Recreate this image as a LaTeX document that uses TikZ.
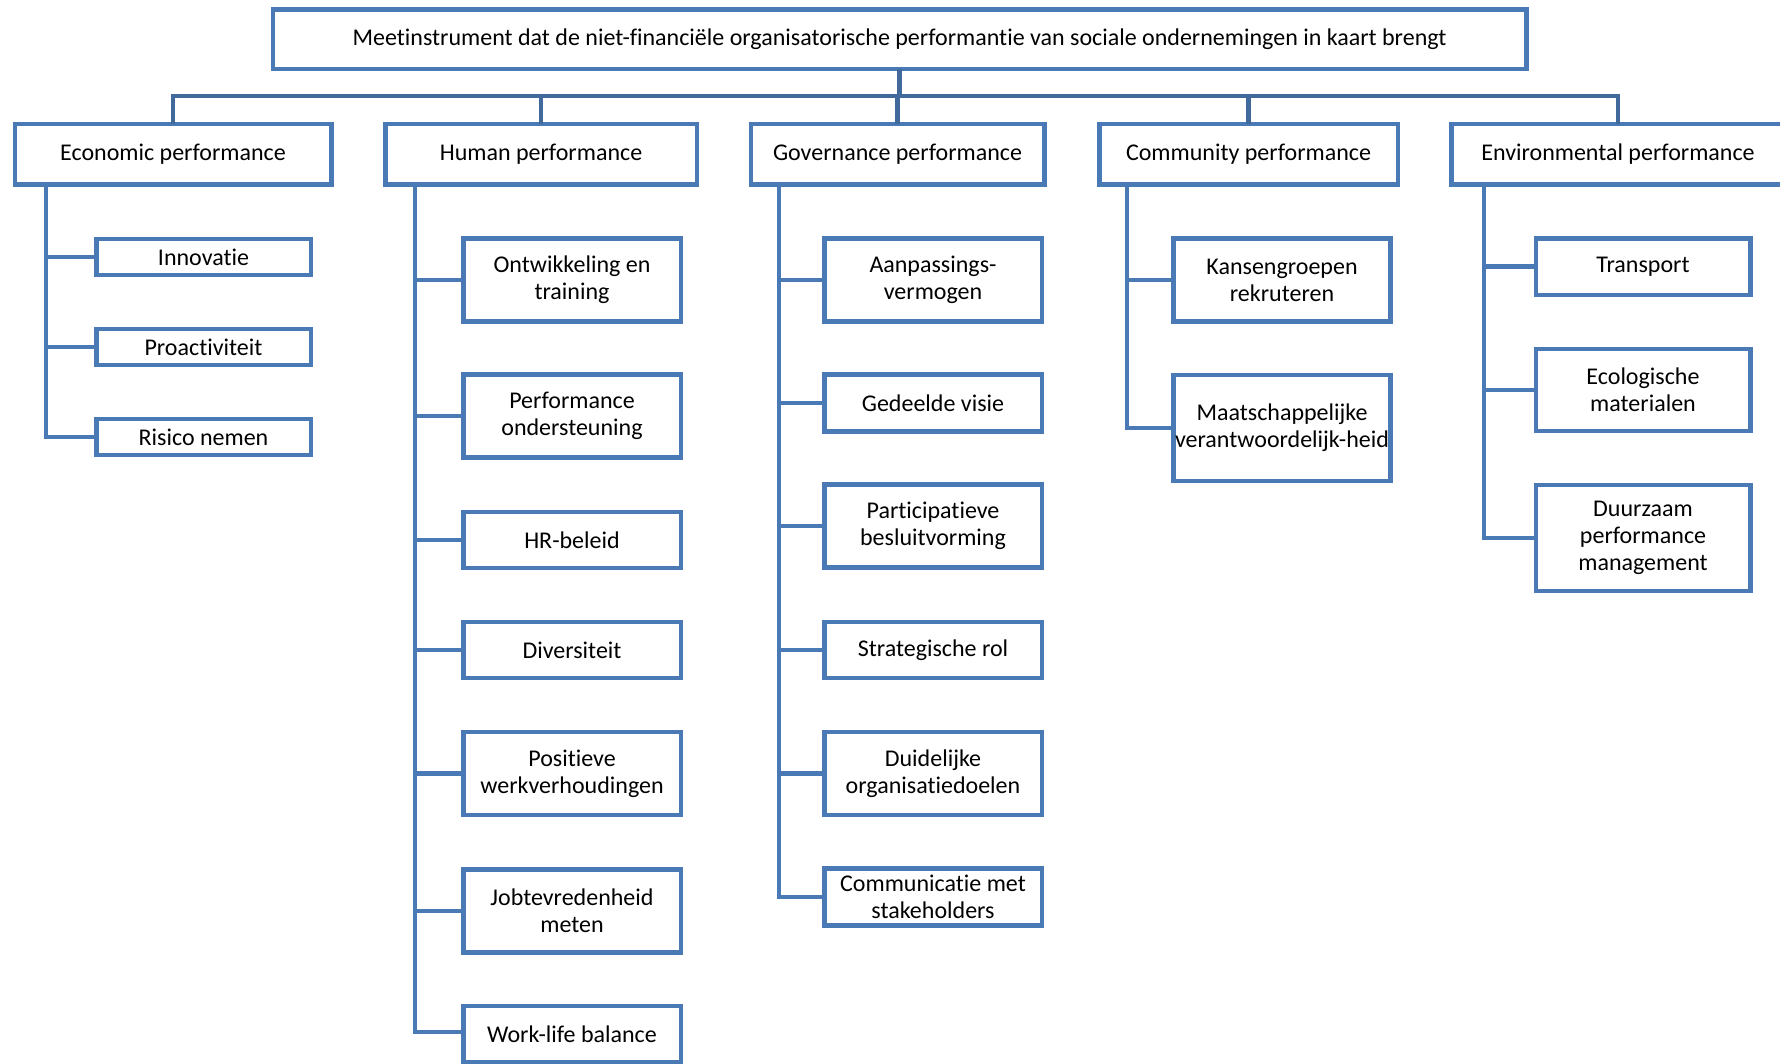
\documentclass[tikz,border=0pt]{standalone}
\usepackage{fontspec}
\setmainfont{Carlito}[Ligatures={NoCommon}]
\definecolor{boxblue}{HTML}{4A7AB5}
\definecolor{busblue}{HTML}{41699C}
\begin{document}
\begin{tikzpicture}[x=1pt,y=-1pt,
  box/.style={draw=boxblue,line width=4.5pt,fill=white,inner sep=0pt,outer sep=0pt,
    align=center,font=\fontsize{24}{27}\selectfont,text=black},
  conn/.style={draw=boxblue,line width=4.5pt,line join=miter},
  busline/.style={draw=busblue,line width=4.5pt,line join=miter},
  lone/.style={box,minimum width=316.5pt,minimum height=60.5pt},
  cE/.style={box,minimum width=214.5pt},
  cH/.style={box,minimum width=217.5pt}
]
\useasboundingbox (0,0) rectangle (1780,1063);
\coordinate (bus) at (0,96);

\node[box,minimum width=1253.5pt,minimum height=59.5pt] (top) at (899.5,39) {Meetinstrument dat de niet-financiële organisatorische performantie van sociale ondernemingen in kaart brengt};

\node[lone] (econ) at (173,154) {Economic performance};
\node[lone,minimum width=311.5pt] (human) at (541,154) {Human performance};
\node[lone,minimum width=293.5pt] (gov) at (897.5,154) {Governance performance};
\node[lone,minimum width=298.5pt] (comm) at (1248.5,154) {Community performance};
\node[lone,minimum width=333.5pt] (env) at (1618,154) {Environmental performance};

% Economic children
\node[cE,minimum height=36pt] (innov) at (203.5,257) {Innovatie};
\node[cE,minimum height=36pt] (proact) at (203.5,347) {Proactiviteit};
\node[cE,minimum height=36pt] (risico) at (203.5,437) {Risico nemen};

% Human children
\node[cH,minimum height=83pt] (ontw) at (572,280) {Ontwikkeling en\\training};
\node[cH,minimum height=83pt] (perfo) at (572,416) {Performance\\ondersteuning};
\node[cH,minimum height=56pt] (hr) at (572,540) {HR-beleid};
\node[cH,minimum height=56pt] (div) at (572,650) {Diversiteit};
\node[cH,minimum height=83pt] (posi) at (572,773.5) {Positieve\\werkverhoudingen};
\node[cH,minimum height=83pt] (job) at (572,911) {Jobtevredenheid\\meten};
\node[cH,minimum height=56pt] (work) at (572,1034) {Work-life balance};

% Governance children
\node[cH,minimum height=83pt] (aanp) at (933,280) {Aanpassings-\\vermogen};
\node[cH,minimum height=57pt] (gedeeld) at (933,403) {Gedeelde visie};
\node[cH,minimum height=83pt] (partic) at (933,526) {Participatieve\\besluitvorming};
\node[cH,minimum height=56pt] (strat) at (933,650) {Strategische rol};
\node[cH,minimum height=83pt] (duid) at (933,773.5) {Duidelijke\\organisatiedoelen};
\node[cH,minimum height=57pt] (commu) at (933,897) {Communicatie met\\stakeholders};

% Community children
\node[cH,minimum width=217pt,minimum height=83pt] (kans) at (1282,280) {Kansengroepen\\rekruteren};
\node[cH,minimum width=217pt,minimum height=106pt] (maat) at (1282,428) {Maatschappelijke\\verantwoordelijk-heid};

% Environmental children
\node[cE,minimum height=56.5pt] (trans) at (1643,266.5) {Transport};
\node[cE,minimum height=82pt] (eco) at (1643,390) {Ecologische\\materialen};
\node[cE,minimum height=106pt] (duur) at (1643,538) {Duurzaam\\performance\\management};

% bus connectors
\draw[busline] (econ.north) -- (econ.north |- bus) -| (env.north);
\draw[busline] (top.south) -- (top.south |- bus);
\draw[busline] (human.north) -- (human.north |- bus);
\draw[busline] (gov.north) -- (gov.north |- bus);
\draw[busline] (comm.north) -- (comm.north |- bus);

% stem coordinates on parent bottoms
\coordinate (econS) at (46,186);
\coordinate (humanS) at (415,186);
\coordinate (govS) at (779,186);
\coordinate (commS) at (1127,186);
\coordinate (envS) at (1484,186);

\foreach \c in {innov,proact,risico} \draw[conn] (econS) |- (\c.west);
\foreach \c in {ontw,perfo,hr,div,posi,job} \draw[conn] (humanS) |- (\c.west);
\draw[conn] (humanS) |- (work.west |- 0,1032);
\foreach \c in {aanp,gedeeld,partic,strat,duid,commu} \draw[conn] (govS) |- (\c.west);
\foreach \c in {kans,maat} \draw[conn] (commS) |- (\c.west);
\foreach \c in {trans,eco,duur} \draw[conn] (envS) |- (\c.west);
\end{tikzpicture}
\end{document}
